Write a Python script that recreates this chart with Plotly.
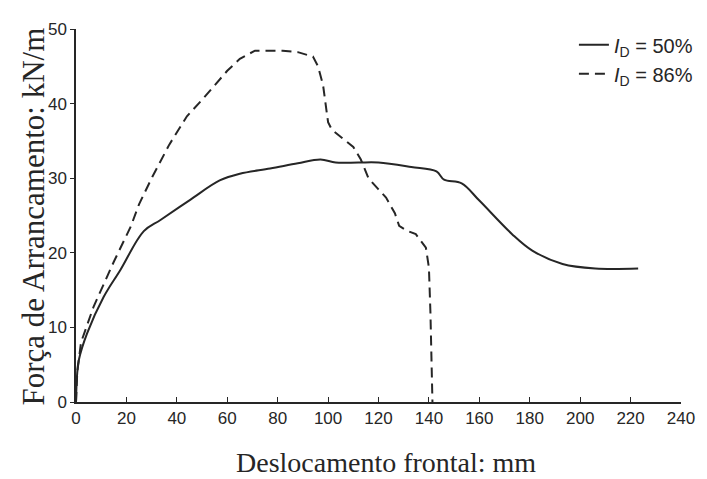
import plotly.graph_objects as go

# Pull-out force vs. frontal displacement for two relative densities
x_d50 = [0, 0.4, 1.1, 4.4, 11, 17.6, 26.9, 33.5, 45.3, 57, 65, 77, 88, 97, 103,
         112, 120, 133, 143, 146, 153, 160, 173, 181, 193, 206, 223]
y_d50 = [0, 3.5, 5.6, 9.2, 14.1, 17.7, 22.9, 24.4, 27.1, 29.7, 30.6, 31.3, 32.0,
         32.5, 32.1, 32.1, 32.1, 31.5, 30.9, 29.8, 29.3, 27.0, 22.5, 20.3, 18.5,
         17.9, 17.9]

x_d86 = [0, 0.5, 2, 7, 15, 21.7, 25, 30.3, 37, 44, 50, 60, 65, 71, 82, 88, 94,
         96, 98, 100, 101.5, 104, 110, 113, 116, 120, 123, 126.5, 128.2, 131,
         134.8, 138.8, 140, 140.6, 141, 141.4]
y_d86 = [0, 4, 8, 12.8, 18.8, 23.5, 26.5, 30.2, 34.5, 38.3, 40.5, 44.4, 46.0,
         47.1, 47.1, 46.9, 46.3, 45.0, 42.5, 37.5, 36.5, 35.8, 34.2, 32.5, 30.0,
         28.5, 27.4, 25.3, 23.6, 23.0, 22.5, 20.7, 18.0, 12, 5, 0]

x_ticks = list(range(0, 241, 20))
y_ticks = list(range(0, 51, 10))

ink = "#262626"
sans = "Liberation Sans Narrow, Arial Narrow, Liberation Sans, sans-serif"
tick_font = dict(family=sans, size=17, color=ink)
legend_font = dict(family=sans, size=20, color=ink)
title_font = "Liberation Serif, Times New Roman, serif"

fig = go.Figure()
fig.add_trace(go.Scatter(
    x=x_d50, y=y_d50, mode="lines", name="<i>I</i><sub>D</sub> = 50%",
    line=dict(color=ink, width=2), line_shape="spline",
))
fig.add_trace(go.Scatter(
    x=x_d86, y=y_d86, mode="lines", name="<i>I</i><sub>D</sub> = 86%",
    line=dict(color=ink, width=2, dash="10px,6px"),
))

fig.update_layout(
    width=707, height=479,
    margin=dict(l=75.5, r=25.5, t=29, b=77, autoexpand=False),
    paper_bgcolor="white", plot_bgcolor="white",
    showlegend=True,
    legend=dict(x=0.823, y=1.01, xanchor="left", yanchor="top",
                bgcolor="rgba(0,0,0,0)", font=legend_font, tracegroupgap=0,
                itemwidth=30),
    annotations=[
        dict(text="Deslocamento frontal: mm", xref="paper", yref="paper",
             x=0.513, y=-0.163, xanchor="center", yanchor="middle",
             showarrow=False, font=dict(family=title_font, size=28, color=ink)),
        dict(text="Força de Arrancamento: kN/m", xref="paper", yref="paper",
             x=-0.0701, y=0.496, xanchor="center", yanchor="middle",
             textangle=-90, showarrow=False,
             font=dict(family=title_font, size=31, color=ink)),
    ],
)
fig.update_xaxes(
    range=[0, 240], tickvals=x_ticks, ticktext=[str(v) for v in x_ticks],
    showgrid=False, zeroline=False, showline=True, linecolor=ink, linewidth=1.5,
    ticks="inside", ticklen=5, tickcolor=ink, tickfont=tick_font,
)
fig.update_yaxes(
    range=[0, 50], tickvals=y_ticks, ticktext=[str(v) for v in y_ticks],
    showgrid=False, zeroline=False, showline=True, linecolor=ink, linewidth=1.5,
    ticks="outside", ticklen=4, tickcolor=ink, tickfont=tick_font,
)

fig.write_html("out.html")
